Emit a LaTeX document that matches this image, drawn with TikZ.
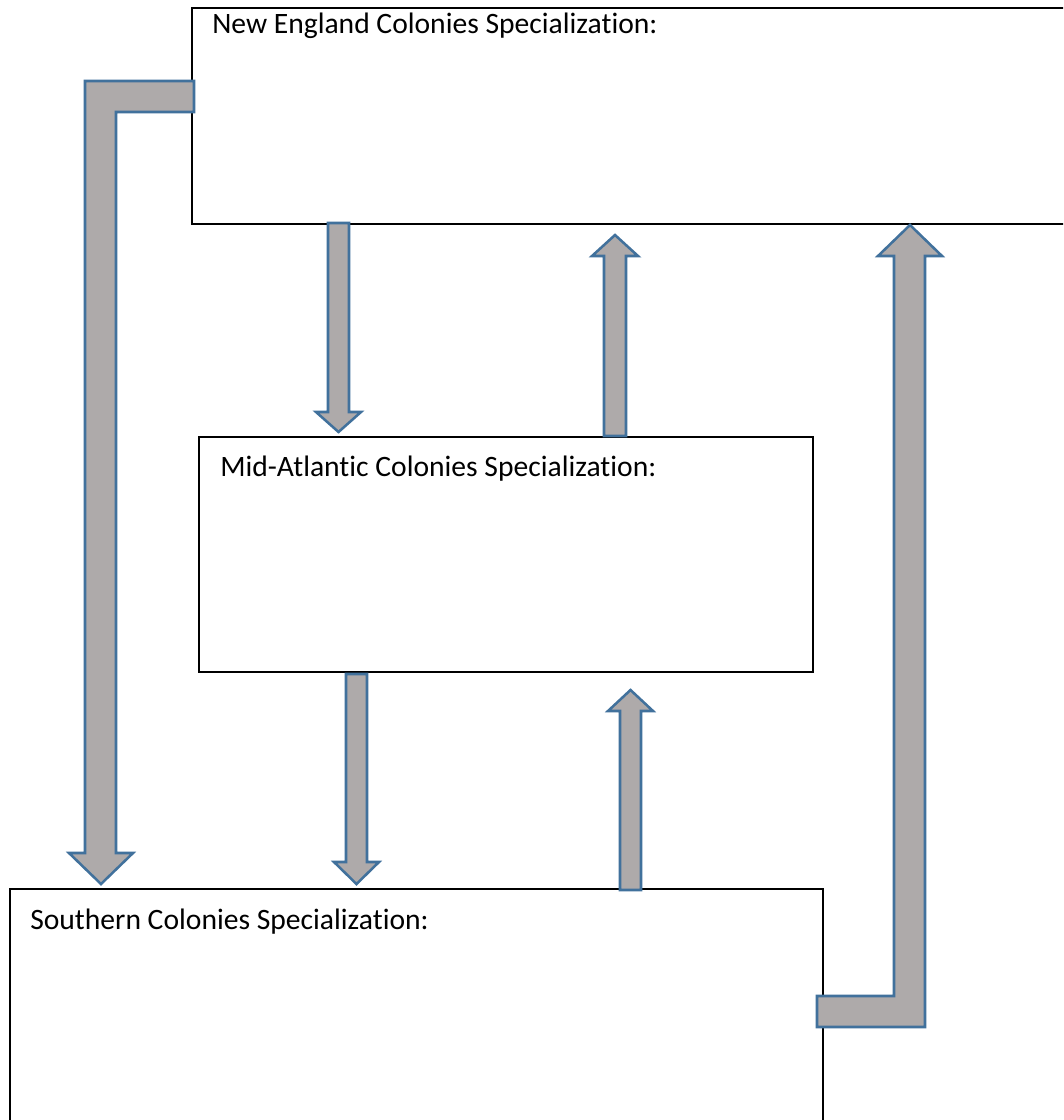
\documentclass[tikz,border=0pt]{standalone}
\usepackage{fontspec}
\setmainfont{Carlito}[Ligatures={NoCommon}]
\usetikzlibrary{fit}
\definecolor{arrfill}{HTML}{AEAAAA}
\definecolor{arrline}{HTML}{41719C}
\tikzset{
  box/.style={draw=black, line width=0.9pt, inner sep=0pt, fill=none},
  lbl/.style={anchor=base west, inner sep=0pt, font=\fontsize{22.2}{26}\selectfont},
  blockarrow/.style={fill=arrfill, draw=arrline, line width=1.9pt, line join=miter}
}
\begin{document}
\begin{tikzpicture}[x=0.75pt,y=-0.75pt]
\clip (0,0) rectangle (1063,1120);
\fill[white] (0,0) rectangle (1063,1120);
% boxes
\coordinate (neA) at (192,8);   \coordinate (neB) at (1080,224);
\coordinate (maA) at (199,437); \coordinate (maB) at (813,672);
\coordinate (soA) at (10,889);  \coordinate (soB) at (823,1140);
\node[box, fit=(neA)(neB)] (ne) {};
\node[box, fit=(maA)(maB)] (ma) {};
\node[box, fit=(soA)(soB)] (so) {};
\node[lbl] (netxt) at (212,34) {New England Colonies Specialization:};
\node[lbl] (matxt) at (220,476) {Mid-Atlantic Colonies Specialization:};
\node[lbl] (sotxt) at (30,929) {Southern Colonies Specialization:};
% elbow arrow New England -> Southern
\draw[blockarrow] (194,81) -- (85,81) -- (85,853) -- (69,853) -- (101,884) -- (133,853) -- (116,853) -- (116,112) -- (194,112) -- cycle;
% New England -> Mid-Atlantic
\draw[blockarrow] (328,223) -- (349,223) -- (349,412) -- (361,412) -- (338.5,432) -- (316,412) -- (328,412) -- cycle;
% Mid-Atlantic -> New England
\draw[blockarrow] (604,436) -- (604,256) -- (592,256) -- (615,235) -- (638,256) -- (626,256) -- (626,436) -- cycle;
% Southern -> New England (elbow)
\draw[blockarrow] (817,996) -- (894,996) -- (894,256) -- (878,256) -- (910,225) -- (942,256) -- (925,256) -- (925,1027) -- (817,1027) -- cycle;
% Mid-Atlantic -> Southern
\draw[blockarrow] (346,674) -- (367,674) -- (367,862) -- (379,862) -- (356.5,884) -- (334,862) -- (346,862) -- cycle;
% Southern -> Mid-Atlantic
\draw[blockarrow] (620,890) -- (620,711) -- (608,711) -- (630.5,690) -- (653,711) -- (641,711) -- (641,890) -- cycle;
\end{tikzpicture}
\end{document}
